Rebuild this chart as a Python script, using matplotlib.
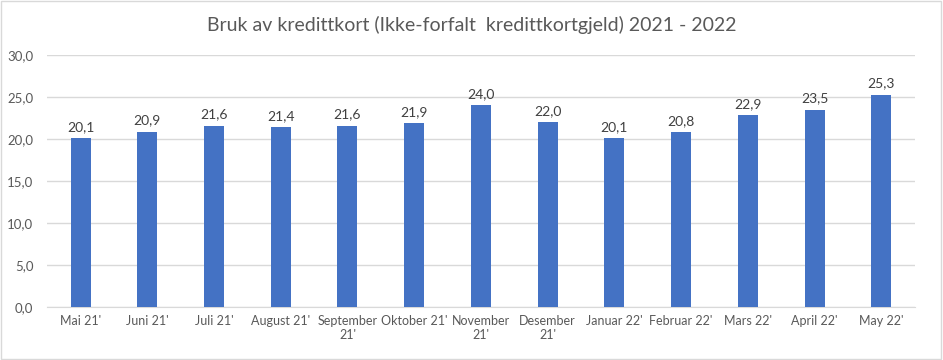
import matplotlib.pyplot as plt
import numpy as np
from matplotlib.patches import Rectangle

months = ["Mai 21'", "Juni 21'", "Juli 21'", "August 21'", "September\n21'",
          "Oktober 21'", "November\n21'", "Desember\n21'", "Januar 22'",
          "Februar 22'", "Mars 22'", "April 22'", "May 22'"]
values = [20.1, 20.9, 21.6, 21.4, 21.6, 21.9, 24.0, 22.0, 20.1, 20.8, 22.9, 23.5, 25.3]
yticks = [0, 5, 10, 15, 20, 25, 30]

plt.rcParams['font.family'] = ['Lato', 'DejaVu Sans']
txt = '#595959'
bar_color = '#4472C4'

fig = plt.figure(figsize=(9.43, 3.6), dpi=100)
ax = fig.add_axes([0.050, 0.147, 0.920, 0.700])

x = np.arange(len(months))
ax.bar(x, values, width=0.3, color=bar_color, zorder=3)
for xi, v in zip(x, values):
    ax.text(xi, v + 0.6, f"{v:.1f}".replace('.', ','), ha='center', va='bottom',
            fontsize=10, color='#404040')

ax.set_xlim(-0.5, len(months) - 0.5)
ax.set_ylim(0, 30)
ax.set_yticks(yticks)
ax.set_yticklabels([f"{t:.1f}".replace('.', ',') for t in yticks], fontsize=9.5, color=txt)
ax.set_xticks(x)
ax.set_xticklabels(months, fontsize=9, color=txt, linespacing=1.15)
ax.tick_params(axis='both', length=0)
ax.tick_params(axis='x', pad=6)
ax.tick_params(axis='y', pad=10)
ax.grid(axis='y', color='#D9D9D9', linewidth=1.0, zorder=0)
for s in ['top', 'right', 'left']:
    ax.spines[s].set_visible(False)
ax.spines['bottom'].set_color('#D9D9D9')

fig.text(0.5, 0.93, "Bruk av kredittkort (Ikke-forfalt  kredittkortgjeld) 2021 - 2022",
         ha='center', va='center', fontsize=14, color=txt)

fig.patches.append(Rectangle((0.001, 0.002), 0.997, 0.995, transform=fig.transFigure,
                             fill=False, edgecolor='#D9D9D9', linewidth=1))

fig.savefig("out.png", dpi=100)
